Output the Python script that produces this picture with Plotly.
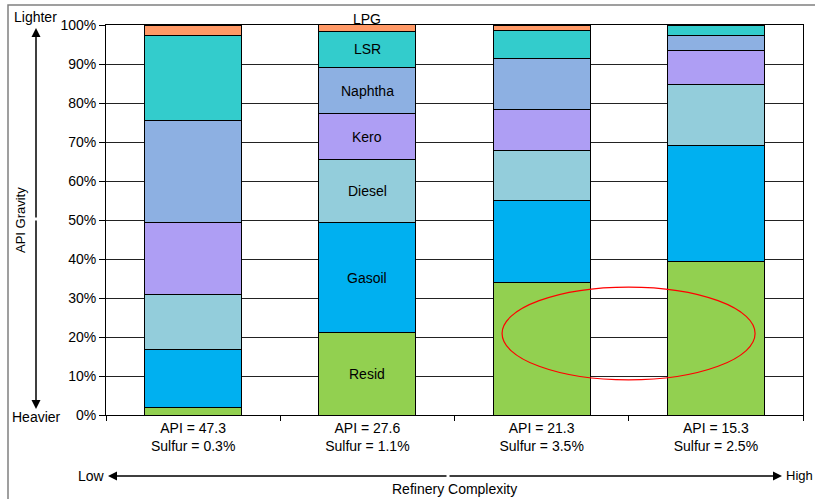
import plotly.graph_objects as go

categories = ["API = 47.3<br>Sulfur = 0.3%", "API = 27.6<br>Sulfur = 1.1%",
              "API = 21.3<br>Sulfur = 3.5%", "API = 15.3<br>Sulfur = 2.5%"]
cuts = ["Resid", "Gasoil", "Diesel", "Kero", "Naphtha", "LSR", "LPG"]
resid   = [2.0, 21.1, 34.1, 39.3]
gasoil  = [14.9, 28.2, 20.8, 29.7]
diesel  = [14.0, 16.1, 12.8, 15.7]
kero    = [18.5, 11.8, 10.6, 8.7]
naphtha = [26.0, 12.0, 13.0, 4.0]
lsr     = [21.8, 9.2, 7.2, 2.6]
lpg     = [2.8, 2.0, 1.5, 0.0]
series = [resid, gasoil, diesel, kero, naphtha, lsr, lpg]
colors = ["#92D050", "#00B0F0", "#93CDDB", "#AE9EF4", "#8DB0E2", "#33CCCC", "#FF9966"]
yticks = [0, 10, 20, 30, 40, 50, 60, 70, 80, 90, 100]
ellipse_x = [1.773, 3.225]
ellipse_y = [9.0, 32.8]

FONT = "Arial, Liberation Sans, sans-serif"
L, R, T, B = 106, 12, 25, 84
W, H = 815, 499
pw, ph = W - L - R, H - T - B
def px(x): return (x - L) / pw
def py(y): return (H - B - y) / ph

fig = go.Figure()
for name, vals, col in zip(cuts, series, colors):
    fig.add_trace(go.Bar(x=categories, y=vals, name=name,
                         marker=dict(color=col, line=dict(color="#000000", width=1))))

# labels for second bar
cum = 0
for name, vals in zip(cuts, series):
    v = vals[1]
    if name == "LPG":
        fig.add_annotation(x=categories[1], yref="paper", y=py(19), text=name, showarrow=False,
                           yanchor="middle", font=dict(size=14, color="#000000", family=FONT))
    else:
        fig.add_annotation(x=categories[1], y=cum + v / 2, text=name, showarrow=False,
                           font=dict(size=14, color="#000000", family=FONT))
    cum += v

fig.add_shape(type="circle", xref="x", yref="y", x0=ellipse_x[0], x1=ellipse_x[1],
              y0=ellipse_y[0], y1=ellipse_y[1], line=dict(color="#FF0000", width=1.2))

# outer frame
fig.add_shape(type="rect", xref="paper", yref="paper", x0=px(8), x1=px(830), y0=py(520), y1=py(5),
              line=dict(color="#808080", width=1.5), layer="below")

def txt(x, y, s, xanchor="center", angle=0, size=14):
    fig.add_annotation(xref="paper", yref="paper", x=px(x), y=py(y), text=s, showarrow=False,
                       xanchor=xanchor, yanchor="middle", textangle=angle,
                       font=dict(size=size, color="#000000", family=FONT))

txt(35, 17, "Lighter")
txt(36, 417, "Heavier")
txt(20, 220, "API Gravity", angle=-90, size=13)
txt(76, 476, "Low", xanchor="left")
txt(784, 476, "High", xanchor="left", size=13)
txt(454, 489, "Refinery Complexity")

def arrow(hx, hy, tx, ty):
    fig.add_annotation(xref="paper", yref="paper", x=px(hx), y=py(hy),
                       ax=tx - hx, ay=ty - hy, axref="pixel", ayref="pixel",
                       text="", showarrow=True, arrowhead=2, arrowsize=1.2, arrowwidth=1.5,
                       arrowcolor="#000000")

arrow(36, 28, 36, 219)
arrow(36, 409, 36, 219)
arrow(108, 476, 448, 476)
arrow(782, 476, 448, 476)

fig.update_layout(
    barmode="stack", bargap=0.443, showlegend=False,
    width=W, height=H, margin=dict(l=L, r=R, t=T, b=B),
    plot_bgcolor="white", paper_bgcolor="white",
    font=dict(family=FONT, size=14, color="#000000"),
    xaxis=dict(showline=True, linecolor="#000000", linewidth=1, mirror=True,
               ticks="outside", tickson="boundaries", ticklen=5, tickcolor="#000000",
               showgrid=False, tickfont=dict(size=14)),
    yaxis=dict(range=[0, 100], tickvals=yticks, ticktext=[f"{v}%" for v in yticks],
               showline=True, linecolor="#000000", linewidth=1, mirror=True,
               ticks="outside", ticklen=6, tickcolor="#000000",
               showgrid=True, gridcolor="#222222", gridwidth=1, zeroline=False,
               tickfont=dict(size=14)),
)
fig.write_html("out.html")
